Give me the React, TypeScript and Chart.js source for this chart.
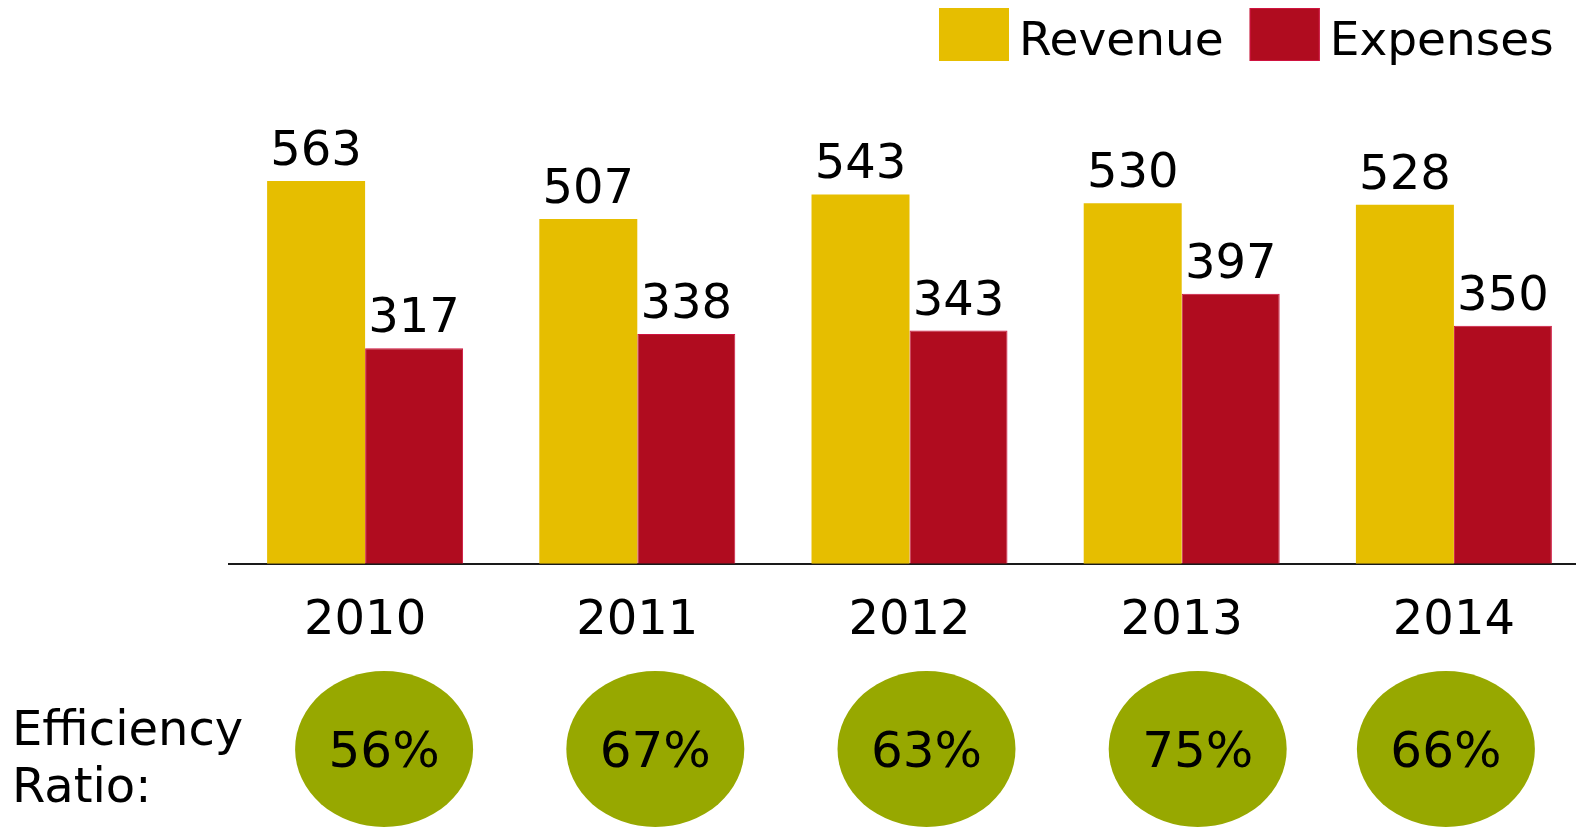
import React, { useEffect, useRef } from 'react';
import { Chart, registerables } from 'chart.js';

Chart.register(...registerables);

// ---- data ----
const years = ['2010', '2011', '2012', '2013', '2014'];
const revenue = [563, 507, 543, 530, 528];
const expenses = [317, 338, 343, 397, 350];
const efficiencyRatios = ['56%', '67%', '63%', '75%', '66%'];
const ratioTitleLines = ['Efficiency', 'Ratio:'];
const seriesNames = ['Revenue', 'Expenses'];

// ---- styles / layout ----
const FONT = '"DejaVu Sans", Verdana, sans-serif';
const REV_COLOR = '#E6BE00';
const EXP_COLOR = '#B00C1F';
const EXP_BORDER = '#CF1340';
const RATIO_COLOR = '#97A800';
const ELLIPSE_SHIFT = [19, 18, 17, 16, -8];
const CANVAS_W = 1600;
const CANVAS_H = 827;

const labelsPlugin = {
  id: 'customDecor',
  afterDatasetsDraw(chart: any) {
    const ctx = chart.ctx;
    ctx.save();
    // value labels
    ctx.font = `48px ${FONT}`;
    ctx.fillStyle = '#000';
    ctx.textAlign = 'center';
    ctx.textBaseline = 'alphabetic';
    chart.data.datasets.forEach((ds: any, di: number) => {
      const meta = chart.getDatasetMeta(di);
      meta.data.forEach((bar: any, i: number) => {
        ctx.fillText(String(ds.data[i]), bar.x, bar.y - 16);
      });
    });

    // efficiency ellipses
    const xs = chart.scales.x;
    efficiencyRatios.forEach((txt, i) => {
      const cx = xs.getPixelForValue(i) + ELLIPSE_SHIFT[i];
      const cy = 749;
      ctx.beginPath();
      ctx.ellipse(cx, cy, 89, 78, 0, 0, Math.PI * 2);
      ctx.fillStyle = RATIO_COLOR;
      ctx.fill();
      ctx.fillStyle = '#000';
      ctx.font = `50px ${FONT}`;
      ctx.textAlign = 'center';
      ctx.textBaseline = 'alphabetic';
      ctx.fillText(txt, cx, cy + 18);
    });

    // efficiency title
    ctx.textAlign = 'left';
    ctx.font = `48px ${FONT}`;
    ctx.fillText(ratioTitleLines[0], 12, 745);
    ctx.fillText(ratioTitleLines[1], 12, 802);

    // legend (top right)
    ctx.font = `47px ${FONT}`;
    const boxW = 70;
    const boxH = 53;
    const gapBoxText = 10;
    const gapItems = 26;
    let x = 939;
    chart.data.datasets.forEach((ds: any) => {
      const w = ctx.measureText(ds.label).width;
      ctx.fillStyle = ds.backgroundColor;
      ctx.fillRect(x, 8, boxW, boxH);
      if (ds.borderWidth) {
        ctx.strokeStyle = ds.borderColor;
        ctx.lineWidth = 1;
        ctx.strokeRect(x + 0.5, 8.5, boxW - 1, boxH - 1);
      }
      ctx.fillStyle = '#000';
      ctx.textAlign = 'left';
      ctx.textBaseline = 'alphabetic';
      ctx.fillText(ds.label, x + boxW + gapBoxText, 55);
      x += boxW + gapBoxText + w + gapItems;
    });
    ctx.restore();
  },
};

export default function App() {
  const canvasRef = useRef<HTMLCanvasElement | null>(null);

  useEffect(() => {
    const canvas = canvasRef.current;
    if (!canvas) return;
    const chart = new Chart(canvas, {
      type: 'bar',
      data: {
        labels: years,
        datasets: [
          {
            label: seriesNames[0],
            data: revenue,
            backgroundColor: REV_COLOR,
            borderWidth: 0,
            barPercentage: 1,
            categoryPercentage: 0.72,
          },
          {
            label: seriesNames[1],
            data: expenses,
            backgroundColor: EXP_COLOR,
            borderColor: EXP_BORDER,
            borderWidth: 1,
            barPercentage: 1,
            categoryPercentage: 0.72,
          },
        ],
      },
      options: {
        responsive: false,
        animation: false,
        devicePixelRatio: 1,
        layout: { padding: { left: 229, right: 10, top: 87.7, bottom: 147.6 } },
        plugins: {
          legend: { display: false },
          tooltip: { enabled: false },
          title: { display: false },
        },
        scales: {
          x: {
            grid: { display: false, drawTicks: false },
            border: { display: true, color: '#1a1a1a', width: 2 },
            ticks: {
              color: '#000',
              font: { family: FONT, size: 48 },
              padding: 29,
              maxRotation: 0,
              autoSkip: false,
            },
          },
          y: {
            display: false,
            min: 0,
            max: 700,
          },
        },
      },
      plugins: [labelsPlugin],
    } as any);
    return () => chart.destroy();
  }, []);

  return (
    <div
      style={{
        position: 'fixed',
        left: 0,
        top: 0,
        width: 1576,
        height: 827,
        overflow: 'hidden',
        background: '#fff',
      }}
    >
      <canvas
        ref={canvasRef}
        width={CANVAS_W}
        height={CANVAS_H}
        style={{ display: 'block', width: CANVAS_W, height: CANVAS_H }}
      />
    </div>
  );
}
